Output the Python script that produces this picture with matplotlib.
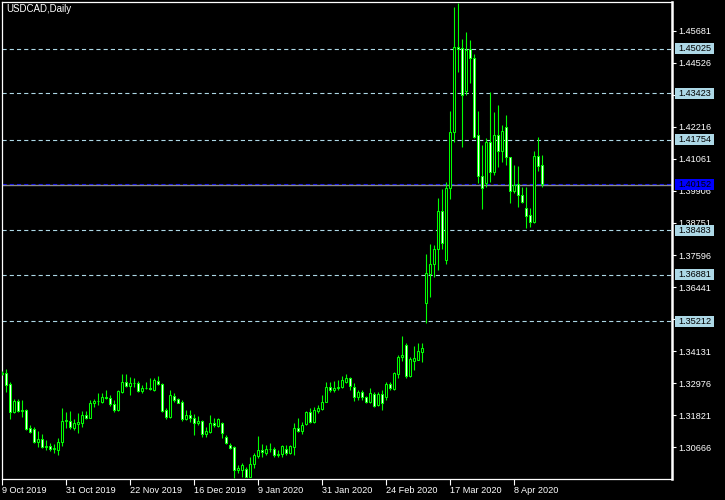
import matplotlib
matplotlib.use("Agg")
import matplotlib.pyplot as plt
import matplotlib.transforms as mtransforms
from matplotlib.patches import Rectangle
import pandas as pd

plt.rcParams['font.family'] = ['Liberation Sans', 'DejaVu Sans']
plt.rcParams['lines.scale_dashes'] = False

chart_title = "USDCAD,Daily"

# daily OHLC, 9 Oct 2019 .. 17 Apr 2020
opens = [1.3335, 1.3333, 1.3295, 1.3195, 1.3233, 1.3198, 1.3200, 1.3136, 1.3132, 1.3087,
         1.3095, 1.3069, 1.3071, 1.3059, 1.3057, 1.3087, 1.3161, 1.3163, 1.3136, 1.3150,
         1.3155, 1.3183, 1.3173, 1.3227, 1.3233, 1.3231, 1.3249, 1.3243, 1.3221, 1.3201,
         1.3267, 1.3301, 1.3288, 1.3299, 1.3297, 1.3271, 1.3281, 1.3279, 1.3273, 1.3307,
         1.3295, 1.3201, 1.3175, 1.3251, 1.3240, 1.3231, 1.3169, 1.3183, 1.3171, 1.3153,
         1.3161, 1.3113, 1.3123, 1.3153, 1.3144, 1.3155, 1.3103, 1.3075, 1.3067, 1.2985,
         1.2985, 1.2988, 1.2961, 1.3005, 1.3036, 1.3057, 1.3047, 1.3059, 1.3061, 1.3039,
         1.3041, 1.3061, 1.3045, 1.3069, 1.3136, 1.3127, 1.3150, 1.3193, 1.3157, 1.3198,
         1.3205, 1.3231, 1.3285, 1.3273, 1.3281, 1.3285, 1.3303, 1.3315, 1.3285, 1.3249,
         1.3267, 1.3249, 1.3231, 1.3259, 1.3219, 1.3259, 1.3249, 1.3294, 1.3276, 1.3331,
         1.3392, 1.3435, 1.3325, 1.3379, 1.3381, 1.3411, 1.3587, 1.3691, 1.3727, 1.3781,
         1.3918, 1.3742, 1.4001, 1.4203, 1.4509, 1.4506, 1.4351, 1.4502, 1.4470, 1.4192,
         1.4044, 1.4019, 1.4167, 1.4059, 1.4192, 1.4134, 1.4221, 1.4113, 1.3990, 1.4016,
         1.3976, 1.3929, 1.3904, 1.3879, 1.4116, 1.4084]
highs = [1.3342, 1.3348, 1.3302, 1.3240, 1.3240, 1.3237, 1.3206, 1.3148, 1.3139, 1.3125,
         1.3113, 1.3093, 1.3081, 1.3078, 1.3099, 1.3207, 1.3195, 1.3198, 1.3170, 1.3191,
         1.3197, 1.3197, 1.3237, 1.3240, 1.3261, 1.3261, 1.3273, 1.3255, 1.3237, 1.3273,
         1.3331, 1.3330, 1.3321, 1.3315, 1.3306, 1.3291, 1.3303, 1.3315, 1.3315, 1.3325,
         1.3297, 1.3207, 1.3273, 1.3261, 1.3243, 1.3237, 1.3201, 1.3201, 1.3187, 1.3179,
         1.3165, 1.3141, 1.3183, 1.3171, 1.3171, 1.3159, 1.3111, 1.3081, 1.3071, 1.3003,
         1.3011, 1.2997, 1.3033, 1.3047, 1.3107, 1.3078, 1.3075, 1.3081, 1.3069, 1.3057,
         1.3075, 1.3075, 1.3075, 1.3153, 1.3171, 1.3159, 1.3198, 1.3207, 1.3213, 1.3219,
         1.3255, 1.3303, 1.3303, 1.3306, 1.3309, 1.3324, 1.3331, 1.3321, 1.3297, 1.3273,
         1.3273, 1.3253, 1.3279, 1.3267, 1.3267, 1.3273, 1.3303, 1.3303, 1.3339, 1.3399,
         1.3468, 1.3441, 1.3393, 1.3432, 1.3441, 1.3444, 1.3763, 1.3799, 1.3796, 1.3965,
         1.3998, 1.4023, 1.4279, 1.4653, 1.4668, 1.4538, 1.4563, 1.4535, 1.4484, 1.4279,
         1.4156, 1.4181, 1.4347, 1.4275, 1.4300, 1.4228, 1.4264, 1.4113, 1.4084, 1.4080,
         1.4005, 1.4005, 1.3929, 1.4134, 1.4185, 1.4120]
lows = [1.3326, 1.3267, 1.3170, 1.3191, 1.3195, 1.3177, 1.3129, 1.3119, 1.3081, 1.3069,
        1.3065, 1.3057, 1.3053, 1.3045, 1.3039, 1.3071, 1.3136, 1.3132, 1.3129, 1.3117,
        1.3141, 1.3168, 1.3171, 1.3213, 1.3219, 1.3225, 1.3240, 1.3215, 1.3195, 1.3197,
        1.3261, 1.3283, 1.3255, 1.3285, 1.3267, 1.3261, 1.3276, 1.3273, 1.3271, 1.3291,
        1.3195, 1.3170, 1.3171, 1.3231, 1.3225, 1.3163, 1.3165, 1.3159, 1.3111, 1.3147,
        1.3105, 1.3105, 1.3119, 1.3141, 1.3139, 1.3101, 1.3077, 1.3059, 1.2955, 1.2973,
        1.2961, 1.2959, 1.2959, 1.2991, 1.3027, 1.3033, 1.3039, 1.3051, 1.3033, 1.3030,
        1.3030, 1.3039, 1.3042, 1.3039, 1.3123, 1.3115, 1.3147, 1.3153, 1.3153, 1.3189,
        1.3201, 1.3231, 1.3267, 1.3267, 1.3273, 1.3279, 1.3297, 1.3273, 1.3235, 1.3237,
        1.3237, 1.3225, 1.3225, 1.3213, 1.3215, 1.3201, 1.3237, 1.3273, 1.3273, 1.3315,
        1.3378, 1.3315, 1.3321, 1.3345, 1.3381, 1.3375, 1.3515, 1.3608, 1.3680, 1.3706,
        1.3781, 1.3727, 1.3962, 1.4167, 1.4419, 1.4149, 1.4336, 1.4380, 1.4181, 1.4019,
        1.3925, 1.4005, 1.4023, 1.4048, 1.4077, 1.4095, 1.4084, 1.3947, 1.3983, 1.3933,
        1.3947, 1.3857, 1.3861, 1.3875, 1.4062, 1.4005]
closes = [1.3330, 1.3291, 1.3195, 1.3233, 1.3198, 1.3200, 1.3134, 1.3123, 1.3087, 1.3096,
          1.3069, 1.3071, 1.3059, 1.3063, 1.3087, 1.3161, 1.3165, 1.3139, 1.3153, 1.3159,
          1.3183, 1.3173, 1.3227, 1.3233, 1.3234, 1.3249, 1.3245, 1.3221, 1.3201, 1.3270,
          1.3301, 1.3288, 1.3299, 1.3297, 1.3271, 1.3281, 1.3279, 1.3277, 1.3309, 1.3294,
          1.3197, 1.3175, 1.3255, 1.3237, 1.3227, 1.3169, 1.3183, 1.3171, 1.3153, 1.3161,
          1.3113, 1.3125, 1.3153, 1.3147, 1.3169, 1.3119, 1.3081, 1.3065, 1.2985, 1.2991,
          1.3003, 1.2961, 1.3005, 1.3039, 1.3057, 1.3051, 1.3059, 1.3061, 1.3039, 1.3041,
          1.3071, 1.3045, 1.3071, 1.3136, 1.3127, 1.3147, 1.3193, 1.3157, 1.3201, 1.3207,
          1.3229, 1.3285, 1.3273, 1.3281, 1.3285, 1.3309, 1.3315, 1.3289, 1.3249, 1.3267,
          1.3249, 1.3231, 1.3261, 1.3217, 1.3258, 1.3225, 1.3294, 1.3279, 1.3333, 1.3393,
          1.3399, 1.3325, 1.3384, 1.3388, 1.3414, 1.3423, 1.3695, 1.3727, 1.3781, 1.3918,
          1.3803, 1.4001, 1.4203, 1.4509, 1.4502, 1.4336, 1.4499, 1.4470, 1.4185, 1.4044,
          1.4001, 1.4167, 1.4059, 1.4192, 1.4134, 1.4207, 1.4113, 1.3990, 1.4012, 1.3976,
          1.3951, 1.3900, 1.3879, 1.4116, 1.4080, 1.40152]

level_lines = [1.45025, 1.43423, 1.41754, 1.38483, 1.36881, 1.35212]
last_price = 1.40152
bid_price = 1.4011
price_ticks = [1.30666, 1.31821, 1.32976, 1.34131, 1.35286, 1.36441, 1.37596,
               1.38751, 1.39906, 1.41061, 1.42216, 1.43371, 1.44526, 1.45681]
date_ticks = ["2019-10-09", "2019-10-31", "2019-11-22", "2019-12-16", "2020-01-09",
              "2020-01-31", "2020-02-24", "2020-03-17", "2020-04-08"]
no_trading = ["2019-12-25", "2020-01-01"]

GREEN = "#00ff00"
LEVEL_BLUE = "#add8e6"
Y_LO, Y_HI = 1.29524, 1.46715


def make_dates():
    d = pd.bdate_range("2019-10-09", "2020-04-17")
    return d.drop(pd.to_datetime(no_trading))


def price_box(ax, trans, value, face, z):
    # box ~39 x 11 px sitting just right of the price scale line
    box_h = 11 / 477 * (Y_HI - Y_LO)
    ax.add_patch(Rectangle((1.0045, value - box_h / 2), 39 / 670, box_h, transform=trans,
                           facecolor=face, edgecolor="none", clip_on=False, zorder=z))
    ax.text(1.0092, value, "%.5f" % value, transform=trans, fontsize=6.6, color="black",
            va="center", ha="left", clip_on=False, zorder=z + 0.5)


dates = make_dates()
xs = list(range(len(dates)))

fig = plt.figure(figsize=(7.25, 5.0), dpi=100, facecolor="black")
ax = fig.add_axes([2 / 725, 21 / 500, 670 / 725, 477 / 500])
ax.set_facecolor("black")

# candles
ax.vlines(xs, lows, highs, color=GREEN, linewidth=0.8, zorder=3)
for i in xs:
    o, c = opens[i], closes[i]
    fill = "white" if c < o else "black"
    ax.bar(i, abs(c - o), bottom=min(o, c), width=0.5, color=fill,
           edgecolor=GREEN, linewidth=0.75, zorder=4)

# level lines
for lv in level_lines:
    ax.axhline(lv, color=LEVEL_BLUE, linewidth=0.8, dashes=(3.0, 2.2), zorder=2)
ax.axhline(last_price, color="#0000ff", linewidth=0.8, dashes=(3.0, 2.2), zorder=2)
ax.axhline(bid_price, color="#8c8c8c", linewidth=1.0, zorder=2)

ax.set_xlim(-0.125, 167.4)
ax.set_ylim(Y_LO, Y_HI)

# axes styling
for s in ax.spines.values():
    s.set_color("white")
    s.set_linewidth(0.9)
ax.spines["right"].set_linewidth(1.8)

ax.yaxis.tick_right()
ax.set_yticks(price_ticks)
ax.set_yticklabels(["%.5f" % t for t in price_ticks])
ax.tick_params(axis="y", colors="white", length=3, width=0.8, pad=1.5, labelsize=6.6)

tick_pos = [dates.get_loc(pd.Timestamp(d)) for d in date_ticks]
tick_lab = [pd.Timestamp(d).strftime("%-d %b %Y") for d in date_ticks]
ax.set_xticks(tick_pos)
ax.set_xticklabels(tick_lab, ha="left")
ax.tick_params(axis="x", colors="white", length=4, width=0.8, pad=1, labelsize=6.6)

# price boxes on the right scale
trans = mtransforms.blended_transform_factory(ax.transAxes, ax.transData)
for lv in level_lines:
    price_box(ax, trans, lv, LEVEL_BLUE, 10)
price_box(ax, trans, last_price, "#0000ff", 12)

fig.text(6 / 725, 1 - 4 / 500, chart_title, color="white", fontsize=7, va="top", ha="left")

fig.savefig("out.png", dpi=100, facecolor="black")
